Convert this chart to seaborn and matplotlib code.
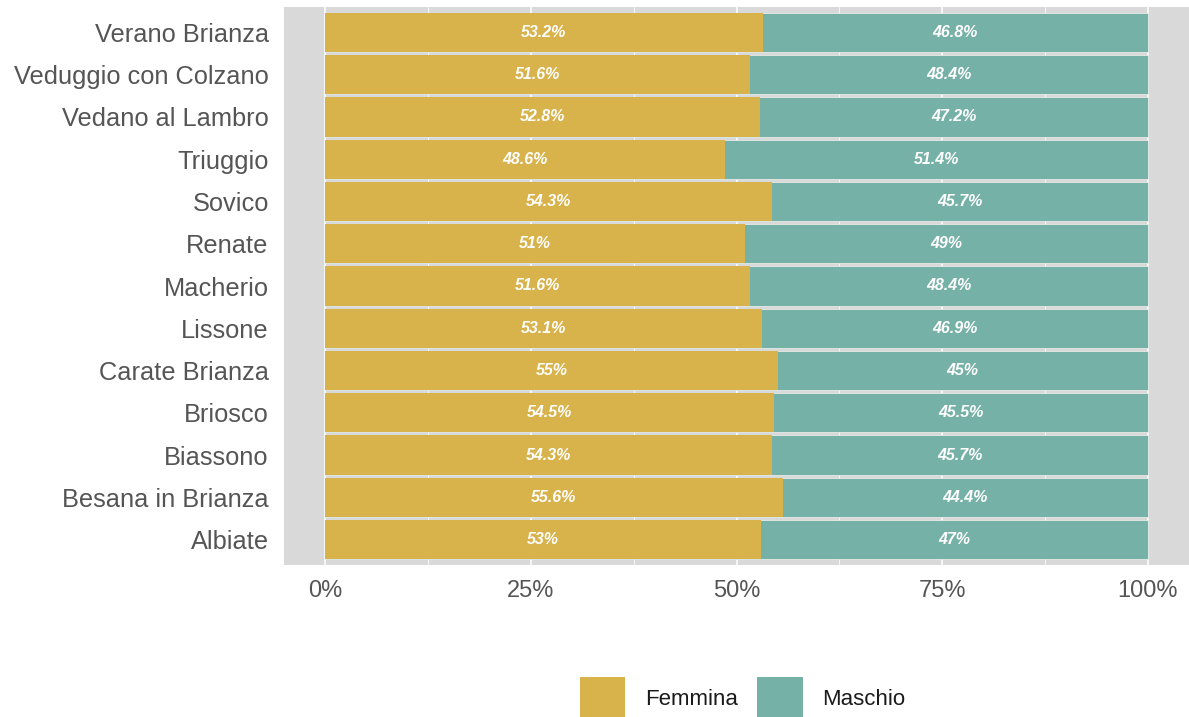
import matplotlib
matplotlib.use("Agg")
import matplotlib.pyplot as plt
from matplotlib.patches import Patch
import seaborn as sns
import pandas as pd

comuni = ["Verano Brianza", "Veduggio con Colzano", "Vedano al Lambro", "Triuggio",
          "Sovico", "Renate", "Macherio", "Lissone", "Carate Brianza", "Briosco",
          "Biassono", "Besana in Brianza", "Albiate"]
femmina = [53.2, 51.6, 52.8, 48.6, 54.3, 51.0, 51.6, 53.1, 55.0, 54.5, 54.3, 55.6, 53.0]
maschio = [46.8, 48.4, 47.2, 51.4, 45.7, 49.0, 48.4, 46.9, 45.0, 45.5, 45.7, 44.4, 47.0]
xticks = [0, 25, 50, 75, 100]
xticklabels = ["0%", "25%", "50%", "75%", "100%"]

C_F = "#D8B24A"
C_M = "#76B1A7"
PANEL = "#D9D9D9"

df = pd.DataFrame({"comune": comuni, "Femmina": femmina, "Maschio": maschio})
df["totale"] = df["Femmina"] + df["Maschio"]

sns.set_theme(style="white")
plt.rcParams["font.family"] = ["Liberation Sans", "DejaVu Sans"]

fig = plt.figure(figsize=(11.89, 7.17), dpi=100)
ax = fig.add_axes([284 / 1189, 1 - 565 / 717, 1 - 284 / 1189, (565 - 7) / 717])
ax.set_facecolor(PANEL)

sns.barplot(data=df, x="totale", y="comune", order=comuni, orient="h",
            color=C_M, saturation=1, width=0.93, ax=ax, errorbar=None,
            edgecolor="#F2F2EE", linewidth=0.5)
sns.barplot(data=df, x="Femmina", y="comune", order=comuni, orient="h",
            color=C_F, saturation=1, width=0.93, ax=ax, errorbar=None,
            edgecolor="none", linewidth=0)

for i, (f, m) in enumerate(zip(femmina, maschio)):
    ax.text(f / 2, i, f"{f:g}%", ha="center", va="center", color="white",
            fontsize=11.5, fontweight="bold", fontstyle="italic")
    ax.text(f + m / 2, i, f"{m:g}%", ha="center", va="center", color="white",
            fontsize=11.5, fontweight="bold", fontstyle="italic")

ax.set_xlim(-5, 105)
ax.set_ylim(len(comuni) - 1 + 0.6, -0.6)
ax.set_xticks(xticks)
ax.set_xticklabels(xticklabels)
ax.set_xticks([12.5, 37.5, 62.5, 87.5], minor=True)
ax.set_axisbelow(True)
ax.grid(axis="x", which="major", color="white", linewidth=1.1)
ax.grid(axis="x", which="minor", color="white", linewidth=0.55)
ax.grid(axis="y", visible=False)
ax.tick_params(axis="both", which="both", length=0, colors="#555555", pad=11)
ax.tick_params(axis="x", labelsize=17)
ax.tick_params(axis="y", labelsize=18.3)
ax.set_xlabel("")
ax.set_ylabel("")
for s in ax.spines.values():
    s.set_visible(False)

handles = [Patch(facecolor=C_F, edgecolor="none", label="Femmina"),
           Patch(facecolor=C_M, edgecolor="none", label="Maschio")]
fig.legend(handles=handles, loc="center", bbox_to_anchor=(743 / 1189, 1 - 698 / 717),
           ncol=2, frameon=False, fontsize=16, handlelength=2.03, handleheight=2.6,
           handletextpad=0.9, columnspacing=0.86, borderpad=0, labelcolor="#1A1A1A")

fig.savefig("out.png", dpi=100)
